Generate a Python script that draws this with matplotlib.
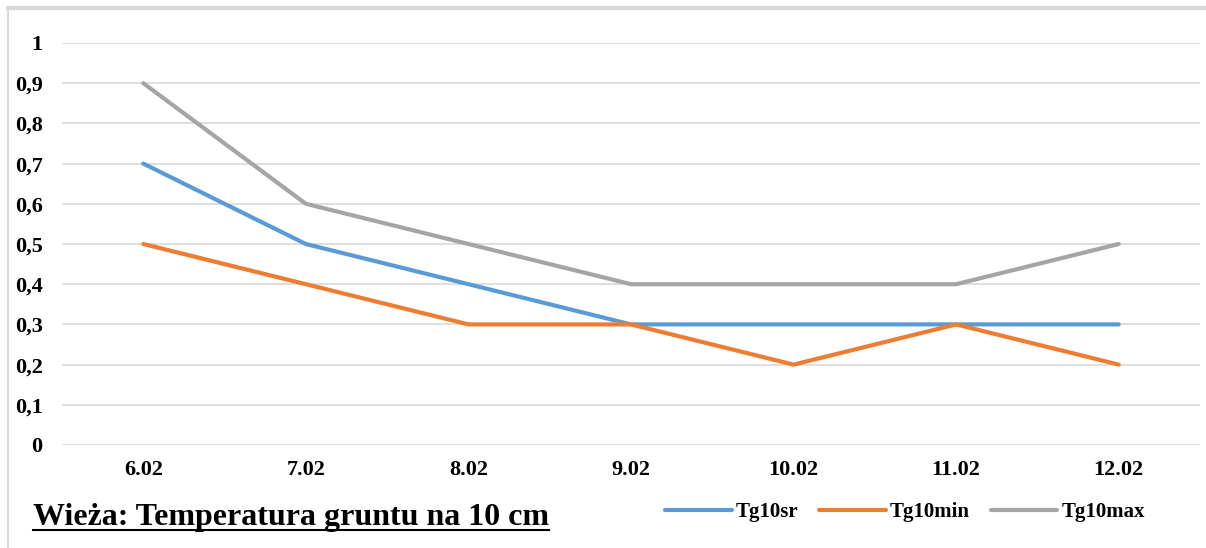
import matplotlib.pyplot as plt
from matplotlib.lines import Line2D

days = ['6.02', '7.02', '8.02', '9.02', '10.02', '11.02', '12.02']
tg10sr = [0.7, 0.5, 0.4, 0.3, 0.3, 0.3, 0.3]
tg10min = [0.5, 0.4, 0.3, 0.3, 0.2, 0.3, 0.2]
tg10max = [0.9, 0.6, 0.5, 0.4, 0.4, 0.4, 0.5]
y_ticks = [0, 0.1, 0.2, 0.3, 0.4, 0.5, 0.6, 0.7, 0.8, 0.9, 1]
y_labels = ['0', '0,1', '0,2', '0,3', '0,4', '0,5', '0,6', '0,7', '0,8', '0,9', '1']

plt.rcParams['font.family'] = ['Liberation Serif', 'DejaVu Serif']
plt.rcParams['font.weight'] = 'bold'

fig = plt.figure(figsize=(12.06, 5.48), dpi=100)
ax = fig.add_axes([62/1206, 103/548, 1138/1206, 402/548])

x = range(len(days))
ax.plot(x, tg10sr, color='#5B9BD5', lw=3, label='Tg10sr', solid_capstyle='round')
ax.plot(x, tg10min, color='#ED7D31', lw=3, label='Tg10min', solid_capstyle='round')
ax.plot(x, tg10max, color='#A5A5A5', lw=3, label='Tg10max', solid_capstyle='round')

ax.set_xlim(-0.5, len(days) - 0.5)
ax.set_ylim(0, 1)
ax.set_yticks(y_ticks)
ax.set_yticklabels(y_labels, fontsize=16, fontweight='bold')
ax.set_xticks(list(x))
ax.set_xticklabels(days, fontsize=16, fontweight='bold')
ax.tick_params(length=0)
ax.tick_params(axis='y', pad=14)
ax.tick_params(axis='x', pad=11)
ax.grid(axis='y', color='#d9d9d9', lw=1.2)
ax.set_axisbelow(True)
for s in ax.spines.values():
    s.set_visible(False)

leg = fig.legend(loc='center', bbox_to_anchor=(905/1206, 1 - 512/548), ncol=3, frameon=False,
                 prop={'size': 15, 'weight': 'bold'}, handlelength=3.2, handletextpad=0.2,
                 columnspacing=1.0)

title = fig.text(33/1206, 1 - 518/548, 'Wieża: Temperatura gruntu na 10 cm', fontsize=23,
                 fontweight='bold', ha='left', va='center')

# frame lines of the screenshot
fig.add_artist(Line2D([8/1206, 1], [1 - 8/548, 1 - 8/548], color='#d9d9d9', lw=3, transform=fig.transFigure))
fig.add_artist(Line2D([8/1206, 8/1206], [0, 1 - 8/548], color='#d9d9d9', lw=1.5, transform=fig.transFigure))

# underline the title
fig.canvas.draw()
bb = title.get_window_extent().transformed(fig.transFigure.inverted())
uy = bb.y0 + 0.004
fig.add_artist(Line2D([bb.x0, bb.x1], [uy, uy], color='black', lw=1.5, transform=fig.transFigure))

fig.savefig('out.png', dpi=100)
